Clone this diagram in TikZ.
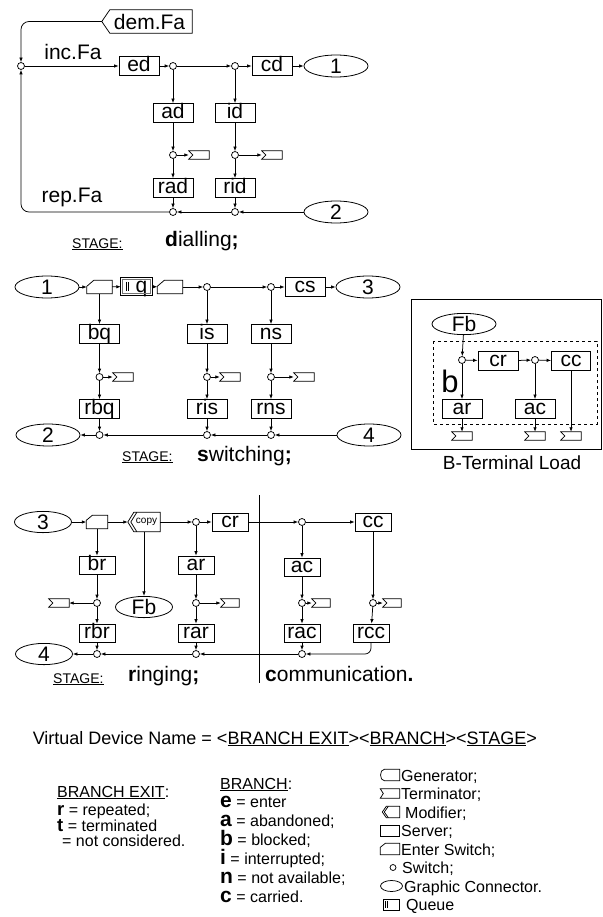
\documentclass[tikz,border=0pt]{standalone}
\usepackage{fontspec}
\setmainfont{Liberation Sans}
\usetikzlibrary{arrows.meta,shapes.geometric,calc}
\newcommand\lblfont{\fontsize{21}{23}\selectfont}
\newcommand\legfont{\fontsize{16}{18}\selectfont}
\newcommand\symfont{\fontsize{16}{18}\selectfont}
\newcommand\stgfont{\fontsize{14}{16}\selectfont}
\newcommand\stagefont{\fontsize{21}{23}\selectfont}
\newcommand\bigbr[1]{{\fontsize{21}{21}\selectfont\bfseries #1}}
\newcommand\bigex[1]{{\fontsize{18.5}{18.5}\selectfont\bfseries #1}}
\newcommand\termnode[5]{%
  \node[inner sep=0pt, minimum width=#3pt, minimum height=#4pt] (#1) at (#2) {};
  \draw[shp] (#1.north west) -- (#1.north east) -- (#1.south east) -- (#1.south west) -- ([xshift=#5pt]#1.west) -- cycle;}
\newcommand\esnode[6]{%
  \node[inner sep=0pt, minimum width=#3pt, minimum height=#4pt] (#1) at (#2) {};
  \draw[shp] ([xshift=#5pt]#1.north west) -- (#1.north east) -- (#1.south east) -- (#1.south west) -- ([yshift=-#6pt]#1.north west) -- cycle;}
\newcommand\modnode[6]{%
  \node[inner sep=0pt, minimum width=#3pt, minimum height=#4pt] (#1) at (#2) {#6};
  \draw[shp] (#1.west) -- ([xshift=#5pt]#1.north west) -- (#1.north east) -- (#1.south east) -- ([xshift=#5pt]#1.south west) -- cycle;}
\tikzset{
  shp/.style={draw, line width=0.75pt, line join=miter},
  conn/.style={draw, line width=0.75pt, -{Latex[length=4.5pt,width=3.5pt]}},
  plain/.style={draw, line width=0.75pt},
  srv/.style={draw, line width=0.8pt, rectangle, minimum width=40pt, minimum height=19pt, inner sep=0pt, font=\lblfont, text height=15pt, text depth=4pt},
  srvs/.style={srv, minimum width=36pt, minimum height=18pt, text height=14.5pt, text depth=3.5pt},
  swt/.style={circle, draw, line width=0.75pt, fill=white, minimum size=7pt, inner sep=0pt},
  gc/.style={ellipse, draw, line width=0.8pt, minimum width=64pt, minimum height=22pt, inner sep=0pt, font=\lblfont, text height=15pt, text depth=0pt},
  gcs/.style={gc, minimum width=57pt, minimum height=18pt},
  txt/.style={inner sep=0pt, anchor=base west},
  leg/.style={txt, font=\legfont},
  sym/.style={txt, font=\symfont},
}
\begin{document}
\begin{tikzpicture}[x=1pt,y=-1pt]
\useasboundingbox (0,0) rectangle (602,917);
\fill[white] (0,0) rectangle (602,917);

% ===================== dialling =====================
\modnode{dem}{147,21.5}{90}{23}{8}{\lblfont\hspace*{5pt}dem.Fa}
\node[swt] (swL) at (21,66) {};
\node[srv] (ed) at (139,66) {ed};
\node[swt] (sw1) at (173,66) {};
\node[swt] (sw2) at (235,66) {};
\node[srv] (cd) at (272,66) {cd};
\node[gc] (c1) at (336,66) {1};
\node[srv] (ad) at (173,113) {ad};
\node[srv] (id) at (235,113) {id};
\node[swt] (sw3) at (173,155) {};
\node[swt] (sw4) at (235,155) {};
\termnode{t1}{199,155}{20}{8}{4}
\termnode{t2}{272,155}{20}{8}{4}
\node[srv] (rad) at (173,188) {rad};
\node[srv] (rid) at (235,188) {rid};
\node[swt] (sw5) at (173,212) {};
\node[swt] (sw6) at (235,212) {};
\node[gc] (c2) at (336,212) {2};
\node[font=\lblfont, inner sep=0pt] (inc) at (73,52) {inc.Fa};
\node[font=\lblfont, inner sep=0pt] (rep) at (72,197) {rep.Fa};
\node[txt, font=\stgfont] (stg1) at (72,248) {\underline{STAGE:}};
\node[txt, font=\stagefont] (dial) at (165,247) {\textbf{d}ialling\textbf{;}};

\draw[conn, rounded corners=8pt] (dem.west) -| (swL.north);
\draw[conn] (swL) -- (ed);
\draw[conn] (ed) -- (sw1);
\draw[conn] (sw1) -- (sw2);
\draw[conn] (sw2) -- (cd);
\draw[conn] (cd) -- (c1);
\draw[conn] (sw1) -- (ad);
\draw[conn] (ad) -- (sw3);
\draw[conn] (sw3) -- (t1);
\draw[conn] (sw3) -- (rad);
\draw[conn] (rad) -- (sw5);
\draw[conn] (sw2) -- (id);
\draw[conn] (id) -- (sw4);
\draw[conn] (sw4) -- (t2);
\draw[conn] (sw4) -- (rid);
\draw[conn] (rid) -- (sw6);
\draw[conn] (c2) -- (sw6);
\draw[conn] (sw6) -- (sw5);
\draw[conn, rounded corners=8pt] (sw5.west) -| (swL.south);

% ===================== switching =====================
\node[gc] (s1) at (47,287) {1};
\esnode{es1}{99.5,287}{25}{13}{7}{6}
\node[inner sep=0pt, minimum width=31pt, minimum height=17pt, font=\lblfont, text height=14pt, text depth=3pt] (q) at (136.5,286.5) {\hspace*{10pt}q};
\draw[shp] (q.north west) rectangle (q.south east);
\draw[line width=0.5pt, black!55] ([shift={(1.5pt,-1.5pt)}]q.north west) rectangle ([shift={(-1.5pt,1.5pt)}]q.south east);
\draw[line width=0.6pt] ([shift={(5pt,-4pt)}]q.north west) -- ([shift={(5pt,4pt)}]q.south west);
\draw[line width=1.3pt] ([shift={(7.5pt,-4pt)}]q.north west) -- ([shift={(7.5pt,4pt)}]q.south west);
\esnode{es2}{170,287}{25}{13}{7}{6}
\node[swt] (sw7) at (207,287) {};
\node[swt] (sw8) at (271,287) {};
\node[srv] (cs) at (305,287) {cs};
\node[gc] (s3) at (368,287) {3};
\node[srv] (bq) at (99.5,334) {bq};
\node[srv] (is) at (207,334) {is};
\node[srv] (ns) at (271,334) {ns};
\node[swt] (sw9) at (99.5,377) {};
\node[swt] (sw10) at (207,377) {};
\node[swt] (sw11) at (271,377) {};
\termnode{t3}{123,377}{20}{8}{4}
\termnode{t4}{230,377}{20}{8}{4}
\termnode{t5}{304,377}{20}{8}{4}
\node[srv] (rbq) at (99.5,409) {rbq};
\node[srv] (ris) at (207,409) {ris};
\node[srv] (rns) at (271,409) {rns};
\node[swt] (sw12) at (99.5,435) {};
\node[swt] (sw13) at (207,435) {};
\node[swt] (sw14) at (271,435) {};
\node[gc] (s2) at (48,435) {2};
\node[gc] (s4) at (369,435) {4};
\node[txt, font=\stgfont] (stg2) at (122,461) {\underline{STAGE:}};
\node[txt, font=\stagefont] (swi) at (197,461) {\textbf{s}witching\textbf{;}};

\draw[conn] (s1) -- (es1);
\draw[conn] (es1) -- (q);
\draw[conn] (q) -- (es2);
\draw[conn] (es2) -- (sw7);
\draw[conn] (sw7) -- (sw8);
\draw[conn] (sw8) -- (cs);
\draw[conn] (cs) -- (s3);
\draw[conn] (es1) -- (bq);
\draw[conn] (bq) -- (sw9);
\draw[conn] (sw9) -- (t3);
\draw[conn] (sw9) -- (rbq);
\draw[conn] (rbq) -- (sw12);
\draw[conn] (sw7) -- (is);
\draw[conn] (is) -- (sw10);
\draw[conn] (sw10) -- (t4);
\draw[conn] (sw10) -- (ris);
\draw[conn] (ris) -- (sw13);
\draw[conn] (sw8) -- (ns);
\draw[conn] (ns) -- (sw11);
\draw[conn] (sw11) -- (t5);
\draw[conn] (sw11) -- (rns);
\draw[conn] (rns) -- (sw14);
\draw[conn] (s4) -- (sw14);
\draw[conn] (sw14) -- (sw13);
\draw[conn] (sw13) -- (sw12);
\draw[conn] (sw12) -- (s2);

% ===================== B-terminal load =====================
\draw[line width=0.8pt] (411,299) rectangle (601,449);
\draw[line width=0.7pt, dashed] (433,341) rectangle (597,424);
\node[gc, minimum height=21pt] (fb1) at (464,324) {Fb};
\node[swt] (sw15) at (462,360) {};
\node[srv, minimum height=18pt] (bcr) at (498,361) {cr};
\node[swt] (sw16) at (535,360) {};
\node[srv, minimum width=39pt, minimum height=18pt] (bcc) at (571,361) {cc};
\node[srv, minimum height=18pt] (bar) at (462,409) {ar};
\node[srv, minimum height=18pt] (bac) at (535,409) {ac};
\node[font=\fontsize{31}{31}\selectfont, inner sep=0pt] (bl) at (450,381) {b};
\termnode{t6}{462,436}{20}{8}{4}
\termnode{t7}{535,436}{20}{8}{4}
\termnode{t8}{571,436}{20}{8}{4}
\node[font=\fontsize{19}{21}\selectfont, inner sep=0pt] (btl) at (512,463) {B-Terminal Load};

\draw[conn] (fb1) -- (sw15);
\draw[conn] (sw15) -- (bcr);
\draw[conn] (bcr) -- (sw16);
\draw[conn] (sw16) -- (bcc);
\draw[conn] (sw15) -- (bar);
\draw[conn] (bar) -- (t6);
\draw[conn] (sw16) -- (bac);
\draw[conn] (bac) -- (t7);
\draw[conn] (bcc) -- (t8);

% ===================== ringing / communication =====================
\node[gcs] (r3) at (43,522) {3};
\esnode{es3}{97,522}{21}{13}{6}{5}
\modnode{copy}{144,522}{32}{19}{6}{\fontsize{10}{12}\selectfont\hspace*{5pt}copy}
\draw[shp] ([xshift=9pt]copy.north west) -- ([xshift=3pt]copy.west) -- ([xshift=9pt]copy.south west);
\node[swt] (sw17) at (196,522) {};
\node[srvs] (rcr) at (230,522) {cr};
\node[swt] (sw18) at (302,522) {};
\node[srvs] (rccx) at (373,522) {cc};
\node[srvs] (rbr0) at (97,565) {br};
\node[srvs] (rar0) at (196,565) {ar};
\node[srvs] (rac0) at (302,567) {ac};
\node[gcs, minimum height=20pt] (fb2) at (144,607) {Fb};
\node[swt] (sw19) at (97,603) {};
\node[swt] (sw20) at (196,603) {};
\node[swt] (sw21) at (302,603) {};
\node[swt] (sw22) at (373,603) {};
\termnode{t9}{59,603}{20}{8}{4}
\termnode{t10}{230,603}{18}{8}{4}
\termnode{t11}{321,603}{18}{8}{4}
\termnode{t12}{392,603}{18}{8}{4}
\node[srvs] (rbr) at (97,633) {rbr};
\node[srvs] (rar) at (196,633) {rar};
\node[srvs] (rac) at (302,633) {rac};
\node[srvs] (rcc) at (371,633) {rcc};
\node[swt] (sw23) at (97,654) {};
\node[swt] (sw24) at (196,654) {};
\node[swt] (sw25) at (302,654) {};
\node[gcs, minimum height=17pt] (r4) at (44,654) {4};
\draw[plain] (259,495) -- (259,683);
\node[txt, font=\stgfont] (stg3) at (53,683) {\underline{STAGE:}};
\node[txt, font=\stagefont] (rin) at (128,681) {\textbf{r}inging\textbf{;}};
\node[txt, font=\stagefont] (com) at (265,681) {\textbf{c}ommunication\textbf{.}};

\draw[conn] (r3) -- (es3);
\draw[conn] (es3) -- (copy);
\draw[conn] (copy) -- (sw17);
\draw[conn] (sw17) -- (rcr);
\draw[conn] (rcr) -- (sw18);
\draw[conn] (sw18) -- (rccx);
\draw[conn] (es3) -- (rbr0);
\draw[conn] (copy) -- (fb2);
\draw[conn] (rbr0) -- (sw19);
\draw[conn] (sw19) -- (t9);
\draw[conn] (sw19) -- (rbr);
\draw[conn] (rbr) -- (sw23);
\draw[conn] (sw17) -- (rar0);
\draw[conn] (rar0) -- (sw20);
\draw[conn] (sw20) -- (t10);
\draw[conn] (sw20) -- (rar);
\draw[conn] (rar) -- (sw24);
\draw[conn] (sw18) -- (rac0);
\draw[conn] (rac0) -- (sw21);
\draw[conn] (sw21) -- (t11);
\draw[conn] (sw21) -- (rac);
\draw[conn] (rac) -- (sw25);
\draw[conn] (rccx) -- (sw22);
\draw[conn] (sw22) -- (t12);
\draw[conn] (sw22) -- (rcc);
\draw[conn, rounded corners=6pt] (rcc.south) |- (sw25.east);
\draw[conn] (sw25) -- (sw24);
\draw[conn] (sw24) -- (sw23);
\draw[conn] (sw23) -- (r4);

% ===================== legend =====================
\node[txt, anchor=base east, font=\fontsize{18}{20}\selectfont] (vdn) at (537,744) {Virtual Device Name = <\underline{BRANCH EXIT}><\underline{BRANCH}><\underline{STAGE}>};

\node[leg] (bex) at (57,797) {\underline{BRANCH EXIT}:};
\node[leg] (lr) at (57,815) {\bigex{r} = repeated;};
\node[leg] (lt) at (57,831) {\bigex{t} = terminated};
\node[leg] (lnc) at (62,846) {= not considered.};

\node[leg] (bra) at (220,789) {\underline{BRANCH}:};
\node[leg] (le) at (220,807) {\bigbr{e} = enter};
\node[leg] (la) at (220,826) {\bigbr{a} = abandoned;};
\node[leg] (lb) at (220,845) {\bigbr{b} = blocked;};
\node[leg] (li) at (220,864) {\bigbr{i} = interrupted;};
\node[leg] (ln) at (220,883) {\bigbr{n} = not available;};
\node[leg] (lc) at (220,902) {\bigbr{c} = carried.};

% symbol legend
\node[inner sep=0pt, minimum width=19pt, minimum height=11pt] (igen) at (390,775) {};
\draw[shp] ([xshift=4pt]igen.north west) -- (igen.north east) -- (igen.south east) -- ([xshift=4pt]igen.south west) .. controls ([xshift=-1pt]igen.south west) and ([xshift=-1pt]igen.north west) .. ([xshift=4pt]igen.north west) -- cycle;
\termnode{iterm}{390,793.5}{19}{9}{3}
\modnode{imod}{391,812}{17}{11}{4}{}
\draw[shp] ([xshift=6pt]imod.north west) -- ([xshift=2pt]imod.west) -- ([xshift=6pt]imod.south west);
\node[draw, line width=0.75pt, inner sep=0pt, minimum width=19pt, minimum height=11pt] (iserv) at (390,830.5) {};
\esnode{ies}{390,849}{19}{11}{5}{4}
\node[swt, minimum size=6pt] (isw) at (393,867.5) {};
\node[ellipse, draw, line width=0.75pt, inner sep=0pt, minimum width=22pt, minimum height=11pt] (icon) at (391.5,886) {};
\node[draw, line width=0.75pt, inner sep=0pt, minimum width=16pt, minimum height=11pt] (ique) at (391,904.5) {};
\draw[line width=0.5pt] ([shift={(3pt,-2.5pt)}]ique.north west) -- ([shift={(3pt,2.5pt)}]ique.south west);
\draw[line width=1pt] ([shift={(5pt,-2.5pt)}]ique.north west) -- ([shift={(5pt,2.5pt)}]ique.south west);

\node[sym] (lgen) at (401,781) {Generator;};
\node[sym] (lterm) at (401,799.5) {Terminator;};
\node[sym] (lmod) at (405,818) {Modifier;};
\node[sym] (lserv) at (401,836.5) {Server;};
\node[sym] (les) at (401,855) {Enter Switch;};
\node[sym] (lsw) at (402,873.5) {Switch;};
\node[sym] (lcon) at (404,892) {Graphic Connector.};
\node[sym] (lque) at (406,910.5) {Queue};
\end{tikzpicture}
\end{document}
